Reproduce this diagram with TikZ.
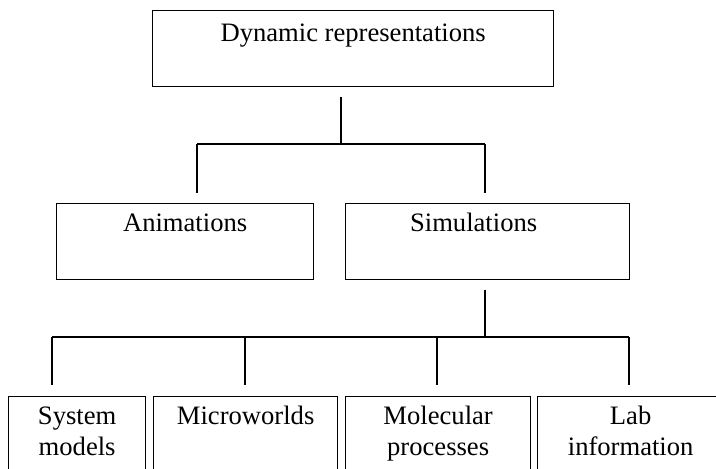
\documentclass[tikz,border=0pt]{standalone}
\usepackage{fontspec}
\setmainfont{Liberation Serif}

\begin{document}
\begin{tikzpicture}[x=1pt, y=-1pt,
    box/.style={draw, line width=1.3pt, rectangle, inner sep=0pt, anchor=north west},
    lbl/.style={anchor=base, inner sep=0pt, align=center, font=\fontsize{26.6}{31}\selectfont},
    link/.style={line width=1.1pt}]
%
\clip (0,0) rectangle (716,469);
%
             \node [box, minimum width=401pt, minimum height=76pt] at (152,10) (dyn) {};
              \node [box, minimum width=257pt, minimum height=76pt] at (56,203) (anim) {};
                  \node [box, minimum width=284pt, minimum height=76pt] at (345,203) (sim) {};
                     \node [box, minimum width=137pt, minimum height=95pt] at (8,396) (sys) {};
                      \node [box, minimum width=184pt, minimum height=95pt] at (153,396) (micro) {};
                       \node [box, minimum width=185pt, minimum height=95pt] at (345,396) (mol) {};
                        \node [box, minimum width=186pt, minimum height=95pt] at (537,396) (lab) {};
%
% two-line labels sit on the baseline of their second line
             \node [lbl] at ([yshift=-31pt]dyn.north) (dyn text) {Dynamic representations};
              \node [lbl] at ([yshift=-28pt]anim.north) (anim text) {Animations};
                  \node [lbl] at ([xshift=-14pt, yshift=-28pt]sim.north) (sim text) {Simulations};
                     \node [lbl] at ([yshift=-59pt]sys.north) (sys text) {System\\models};
                      \node [lbl] at ([yshift=-28pt]micro.north) (micro text) {Microworlds};
                       \node [lbl] at ([yshift=-59pt]mol.north) (mol text) {Molecular\\processes};
                        \node [lbl] at ([yshift=-59pt]lab.north) (lab text) {Lab\\information};
%
\coordinate (fork up) at (341,144);
\coordinate (up a) at (197,144);
\coordinate (up s) at (485,144);
\coordinate (fork low) at (485,337);
\coordinate (low a) at (52,337);
\coordinate (low b) at (245,337);
\coordinate (low c) at (437,337);
\coordinate (low d) at (629,337);
%
\draw[link, shorten <=10pt] (dyn.south -| fork up) -- (fork up);
\draw[link] (up a) -- (up s);
\draw[link, shorten >=10pt] (up a) -- (anim.north -| up a);
\draw[link, shorten >=10pt] (up s) -- (sim.north -| up s);
\draw[link, shorten <=10pt] (sim.south -| fork low) -- (fork low);
\draw[link] (low a) -- (low d);
\draw[link, shorten >=11pt] (low a) -- (sys.north -| low a);
\draw[link, shorten >=11pt] (low b) -- (micro.north -| low b);
\draw[link, shorten >=11pt] (low c) -- (mol.north -| low c);
\draw[link, shorten >=11pt] (low d) -- (lab.north -| low d);
\end{tikzpicture}
\end{document}
